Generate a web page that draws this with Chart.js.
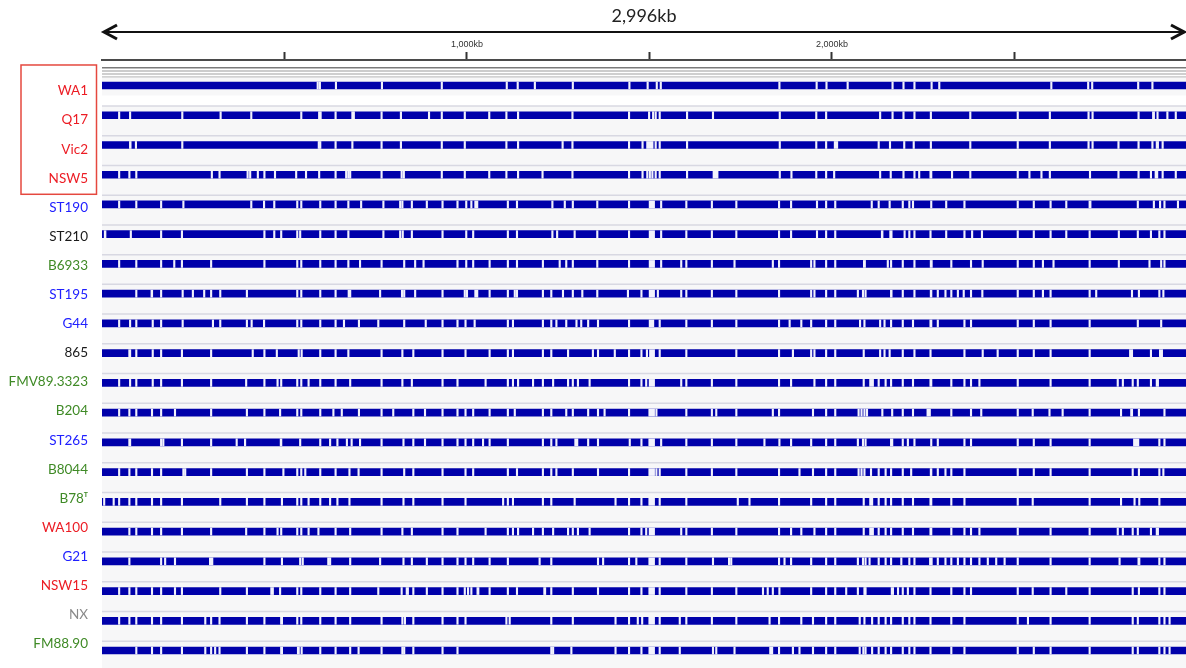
<!DOCTYPE html>
<html><head><meta charset="utf-8">
<script src="https://cdn.jsdelivr.net/npm/chart.js@4.4.1/dist/chart.umd.min.js"></script>
<style>html,body{margin:0;padding:0;background:#fff;overflow:hidden}#wrap{position:relative;width:1186px;height:668px}</style>
</head><body><div id="wrap"><canvas id="c"></canvas></div>
<script>
// ---------- data ----------
const GENOME_KB = 2996;
const TRACKS = ['WA1','Q17','Vic2','NSW5','ST190','ST210','B6933','ST195','G44','865','FMV89.3323','B204','ST265','B8044','B78\u1D40','WA100','G21','NSW15','NX','FM88.90'];
const TICK_VALUES = [500, 1000, 1500, 2000, 2500];
const TICK_LABELS = ['', '1,000kb', '', '2,000kb', ''];
const NARROW_GAP_KB = 4;
// alignment gaps (kb); a number = narrow gap centre, a pair = [start, end]
const GAPS_WA1 = [591,597,641,767,931,1109,1139,1186,1290,1445,1495,1520,1531,1856,1958,1985,2043,2166,2196,2226,2273,2294,2601,2702,2713,2839,2878];
const GAPS_Q17 = [47,77,220,325,409,546,595,599,640,686,690,766,819,896,931,994,1061,1108,1140,1289,1444,1499,1510,1517,1528,1603,1674,1857,1957,1984,2132,2166,2196,2226,2271,2379,2509,2597,2703,2714,2840,[2878,2884],2892,2919,2942];
const GAPS_VIC2 = [[75,80],[91,95],220,594,598,640,686,766,819,931,994,1108,1140,1262,1289,1444,1481,[1492,1510],1517,1528,1603,1857,1957,1984,[2006,2016],2128,2159,2198,2224,2271,2379,2509,2597,2703,2714,2785,2840,2878,[2888,2895],2906];
const GAPS_NSW5 = [47,75,94,301,322,399,406,427,445,474,532,559,595,640,669,675,680,766,821,827,931,994,1061,1108,1140,1207,1289,1444,1481,1494,1501,1508,1517,1528,1603,[1674,1688],1857,1889,1957,1984,2006,2132,2161,2196,2226,2239,[2268,2274],2329,2379,2509,2541,2574,2597,2707,2785,2840,2874,[2885,2893],2906,2942];
const GAPS_ST190 = [47,94,162,223,409,444,472,535,546,598,640,675,710,771,817,823,849,890,933,974,998,1012,[1021,1030],1112,1137,1234,1268,1290,1357,1444,[1499,1514],1532,1601,1671,1738,1855,1888,1959,1984,2009,2109,2128,2158,2194,2212,2222,2272,2313,2363,2509,2553,2599,2642,[2704,2710],2838,2882,2899,2911,2948];
const GAPS_ST210 = [[6,11],79,162,219,445,472,491,535,543,598,640,675,771,817,824,849,933,998,1017,1112,1137,1234,1247,1295,1357,1444,[1499,1514],1532,1601,1671,1738,1855,1888,1959,1984,2009,[2135,2140],[2158,2165],2199,2212,2226,2270,2313,2363,2384,2411,2509,2553,2599,2642,2706,2786,2838,2874,2897,2911];
const GAPS_B6933 = [47,94,162,198,219,299,445,535,546,598,640,675,707,766,828,858,881,974,998,1017,1062,1112,1137,1208,1254,1272,1290,1357,1444,[1499,1514],1532,1587,1601,1671,1733,1838,1855,1943,1952,1984,2009,[2086,2092],2153,2162,2194,2226,[2269,2275],2327,2381,2413,2509,2553,2578,2607,2706,2786,2870,2902,2911];
const GAPS_ST195 = [94,[134,139],162,221,249,280,299,324,397,535,546,598,640,[674,682],762,822,828,858,933,994,1000,[1021,1030],1062,1112,1131,1137,1208,1231,1263,1290,1316,1357,1441,1478,[1499,1514],1523,1587,1601,1671,1738,1855,1943,1952,1984,2009,2071,2085,2092,[2160,2165],2194,2226,[2269,2274],2290,2311,2327,2345,2361,2381,2412,2509,2553,2578,2599,2706,2724,2822,2841,2897,2908];
const GAPS_G44 = [47,77,94,139,162,221,304,324,397,410,444,535,546,598,640,663,704,757,828,887,933,974,996,1021,1112,1126,1208,1231,1245,1272,1300,1313,1332,1359,1444,[1499,1512],1528,1601,1671,1738,1855,1884,1916,1943,1984,2009,2077,2089,2132,2144,2162,2194,2222,[2268,2274],2290,2363,2381,2509,2553,2599,2706,2838,2902];
const GAPS_865 = [[73,79],94,139,162,219,299,413,445,479,539,547,598,640,675,766,823,853,933,996,1062,1112,1126,1208,1231,1277,1345,1359,1405,1444,1478,1493,[1500,1514],1528,1601,1738,1855,1893,1943,1952,1984,2009,2087,2132,2144,2158,2194,2226,2270,2363,2413,2454,2509,2553,2599,2706,[2815,2824],2874,[2897,2906]];
const GAPS_FMV89 = [47,77,94,139,162,219,299,395,445,481,491,535,546,566,598,640,680,766,823,849,933,974,1051,1112,1126,1140,1181,1208,1236,1277,1290,1304,1336,1444,1478,1491,[1499,1514],1587,1601,1671,1738,1855,1888,1952,1984,2009,2087,[2103,2114],2128,2147,2162,2194,2222,[2268,2274],2327,2363,2381,2404,2509,2599,2706,2783,2797,2824,2838,2874,[2888,2895]];
const GAPS_B204 = [47,75,94,137,162,200,299,397,445,488,535,546,598,634,657,704,766,798,853,885,933,974,996,1017,1062,1112,1131,1208,1231,1272,1290,1332,1359,1377,1444,[1498,1514],1519,1601,1671,1683,1738,1838,1855,1948,1984,2009,2073,2081,2089,2096,2138,2165,2194,2222,[2260,2270],2327,2381,2409,2509,2550,2596,2632,2706,2792,[2818,2824],2841,2911];
const GAPS_ST265 = [[73,79],162,168,219,299,369,392,[488,493],543,598,625,645,671,684,707,766,826,853,885,933,974,996,1017,1044,1062,1112,1208,1231,1245,[1295,1304],1332,1359,1446,1478,[1498,1514],1532,1601,1671,1738,1815,1856,1888,1943,1984,2009,2071,2085,2092,[2160,2167],2194,2208,2226,2272,2290,2363,2381,2509,2553,2599,2706,[2826,2841],2897,2911];
const GAPS_B8044 = [47,75,94,137,162,223,228,299,397,445,497,535,546,557,598,640,678,703,766,828,853,933,996,1017,1112,1137,1208,1231,1245,1290,1359,1444,[1498,1514],1519,1528,1601,1671,1738,1855,1911,1948,1984,2009,2073,2081,2089,2107,2128,2147,2162,2194,2217,[2269,2274],2290,2311,2327,2363,2509,2553,2599,2706,2824,2841,2897,2908];
const GAPS_B78T = [6,32,47,75,94,137,162,219,324,397,445,493,535,546,566,598,625,645,678,766,826,853,933,996,1099,1112,1126,1208,1231,1295,1407,1444,1478,[1498,1514],1528,1601,1742,1774,1855,1943,1984,2009,2087,[2103,2112],2128,2147,2162,2194,2222,[2268,2274],2327,2363,2509,2550,2706,2792,2829,2842,2897];
const GAPS_WA100 = [75,94,137,162,219,299,395,445,481,491,535,546,566,593,640,680,766,823,849,933,974,1051,1112,1126,1140,1181,1208,1236,1277,1290,1304,1336,1444,1478,1491,[1499,1514],1587,1601,1671,1738,1855,1888,1916,1952,1984,2009,2087,[2103,2114],2128,2147,2162,2194,2222,[2268,2274],2327,2363,2381,2404,2509,2599,2706,2783,2797,2824,2838,2874,[2888,2895]];
const GAPS_G21 = [[73,77],162,173,200,[294,304],445,493,543,550,620,625,680,762,826,849,890,933,974,996,1017,1062,1112,1199,1231,1359,1373,1444,1464,[1498,1514],1528,1601,1674,1718,1724,1855,1870,1888,1943,1984,2009,2071,2085,2092,2103,2128,2147,2162,2190,2212,2226,[2267,2275],2290,2311,2327,2345,2363,2381,2404,2427,2450,2473,2509,2599,2706,2788,[2838,2844],2897,2911];
const GAPS_NSW15 = [47,75,94,137,162,200,219,324,397,[462,470],488,535,546,598,640,680,757,821,[833,840],853,890,933,974,994,1003,1012,[1027,1033],1062,1112,1137,[1210,1216],1231,1290,1359,1444,1478,[1498,1514],1528,1601,1671,1738,1811,1824,1838,1856,1943,1984,2009,2039,2071,2089,2092,[2162,2169],2181,2194,2208,2226,2270,2327,2363,2381,2509,2550,2599,2642,2706,2824,2841,2897,2911];
const GAPS_NX = [47,75,94,137,162,219,283,299,322,397,445,[489,495],535,546,598,640,680,766,823,830,853,933,974,996,1108,1117,1231,1290,1407,1444,1468,1480,[1498,1514],1528,1583,1601,1671,1738,1829,1855,1916,1948,1984,2009,2076,2089,2110,2128,2147,2162,2194,2212,2226,2270,2327,2363,2509,2537,2599,2706,2824,2838,2897,2911,2925];
const GAPS_FM88 = [94,137,162,219,283,299,310,322,397,445,[489,495],[535,541],547,598,640,680,703,766,823,828,853,933,974,1231,1236,1286,1407,1444,1478,[1498,1514],1528,1583,1674,1683,1733,[1829,1838],1855,1893,1911,1948,1984,2009,2076,2086,2092,2110,2128,2147,2162,2194,2212,2226,2270,2327,2363,2509,2553,2599,2706,2824,2838,2897,2911,2925];
const GAPS = [GAPS_WA1,GAPS_Q17,GAPS_VIC2,GAPS_NSW5,GAPS_ST190,GAPS_ST210,GAPS_B6933,GAPS_ST195,GAPS_G44,GAPS_865,GAPS_FMV89,GAPS_B204,GAPS_ST265,GAPS_B8044,GAPS_B78T,GAPS_WA100,GAPS_G21,GAPS_NSW15,GAPS_NX,GAPS_FM88];

// ---------- styles ----------
const RED = '#ec1c24', BLUE = '#2020ff', GREEN = '#3f8a26', BLACK = '#1a1a1a', GREY = '#8a8a8a';
const LABEL_COLORS = [RED,RED,RED,RED,BLUE,BLACK,GREEN,BLUE,BLUE,BLACK,GREEN,GREEN,BLUE,GREEN,GREEN,RED,BLUE,RED,GREY,GREEN];
const BAR_COLOR = '#0000aa', GAP_COLOR = '#f2f2fc', ROW_BG = '#f7f7f8', SEP = '#d8d8e2';

// ---------- build marks ----------
const marks = [];
TRACKS.forEach((t, i) => marks.push({ x: [0, GENOME_KB], y: i, gap: false }));
GAPS.forEach((g, i) => g.forEach(v => {
  const r = Array.isArray(v) ? v : [v - NARROW_GAP_KB / 2, v + NARROW_GAP_KB / 2];
  marks.push({ x: r, y: i, gap: true });
}));

const decor = {
  id: 'decor',
  beforeDatasetsDraw(chart) {
    const { ctx, chartArea: a, scales } = chart;
    const y = scales.y;
    ctx.save();
    const top = a.top + 16.5;
    ctx.fillStyle = ROW_BG;
    ctx.fillRect(a.left, top, a.right - a.left, a.bottom - top);
    const p0 = y.getPixelForValue(0), p1 = y.getPixelForValue(1);
    ctx.fillStyle = '#ffffff';
    ctx.fillRect(a.left, p0 + 10, a.right - a.left, (p1 - 9.5) - (p0 + 10));
    ctx.strokeStyle = SEP; ctx.lineWidth = 1.5;
    for (let i = 1; i < TRACKS.length; i++) {
      const yy = y.getPixelForValue(i) - 9.3;
      ctx.beginPath(); ctx.moveTo(a.left, yy); ctx.lineTo(a.right, yy); ctx.stroke();
    }
    const stripes = [[7.8, '#7a7a7a', 1.6], [11, '#9a9a9a', 1.2], [14, '#a0a0a0', 1.2], [16.8, '#c4c4c4', 1.2]];
    stripes.forEach(([d, c, w]) => {
      ctx.strokeStyle = c; ctx.lineWidth = w;
      ctx.beginPath(); ctx.moveTo(a.left, a.top + d); ctx.lineTo(a.right, a.top + d); ctx.stroke();
    });
    ctx.restore();
  },
  afterDraw(chart) {
    const { ctx, chartArea: a, scales } = chart;
    ctx.save();
    const ay = 32;
    ctx.strokeStyle = '#111'; ctx.lineWidth = 2;
    ctx.beginPath(); ctx.moveTo(a.left + 1, ay); ctx.lineTo(a.right - 1, ay); ctx.stroke();
    ctx.lineWidth = 3; ctx.lineJoin = 'miter';
    ctx.beginPath(); ctx.moveTo(a.left + 15, ay - 7); ctx.lineTo(a.left + 2, ay); ctx.lineTo(a.left + 15, ay + 7); ctx.stroke();
    ctx.beginPath(); ctx.moveTo(a.right - 15, ay - 7); ctx.lineTo(a.right - 2, ay); ctx.lineTo(a.right - 15, ay + 7); ctx.stroke();
    ctx.fillStyle = '#222'; ctx.font = '18px Lato'; ctx.textAlign = 'center'; ctx.textBaseline = 'middle';
    ctx.fillText(GENOME_KB.toLocaleString('en-US') + 'kb', (a.left + a.right) / 2, 16);
    const yl = scales.yl;
    const bt = yl.getPixelForValue(0) - 26, bb = yl.getPixelForValue(3) + 16;
    ctx.strokeStyle = '#e5483f'; ctx.lineWidth = 1.5;
    ctx.strokeRect(21, bt, 75.5, bb - bt);
    ctx.restore();
  }
};

new Chart(document.getElementById('c'), {
  type: 'bar',
  data: { datasets: [{
    data: marks,
    backgroundColor: c => (c.raw && c.raw.gap) ? GAP_COLOR : BAR_COLOR,
    borderWidth: 0, barThickness: 7, xAxisID: 'x', yAxisID: 'y'
  }]},
  options: {
    indexAxis: 'y', responsive: true, maintainAspectRatio: false, animation: false,
    layout: { padding: 0 },
    plugins: { legend: { display: false }, tooltip: { enabled: false }, title: { display: false } },
    scales: {
      x: {
        type: 'linear', position: 'top', min: 0, max: 2970,
        afterFit(s) { s.height = 60; s.paddingLeft = 0; s.paddingRight = 0; s.paddingTop = 0; s.paddingBottom = 0; },
        afterBuildTicks(s) { s.ticks = TICK_VALUES.map(v => ({ value: v })); },
        ticks: { callback: (v, i) => TICK_LABELS[i], font: { family: 'Liberation Sans', size: 9 }, color: '#333', padding: 2, maxRotation: 0, autoSkip: false },
        grid: { drawOnChartArea: false, drawTicks: true, tickLength: 8, tickWidth: 2, tickColor: '#333' },
        border: { display: true, color: '#4a4a4a', width: 2 }
      },
      y: { type: 'linear', reverse: true, min: -0.857, max: 19.587, display: false, offset: false },
      yl: {
        type: 'linear', position: 'left', reverse: true, min: -1.065, max: 19.83, offset: false,
        afterFit(s) { s.width = 102; s.paddingTop = 0; s.paddingBottom = 0; s.paddingLeft = 0; s.paddingRight = 0; },
        afterBuildTicks(s) { s.ticks = TRACKS.map((_, i) => ({ value: i })); },
        ticks: { callback: v => TRACKS[v], color: c => LABEL_COLORS[c.index], font: { family: 'Lato', size: 13.5 }, padding: 14, autoSkip: false },
        grid: { display: false, drawTicks: false },
        border: { display: false }
      }
    }
  },
  plugins: [decor]
});
</script>
</body></html>
